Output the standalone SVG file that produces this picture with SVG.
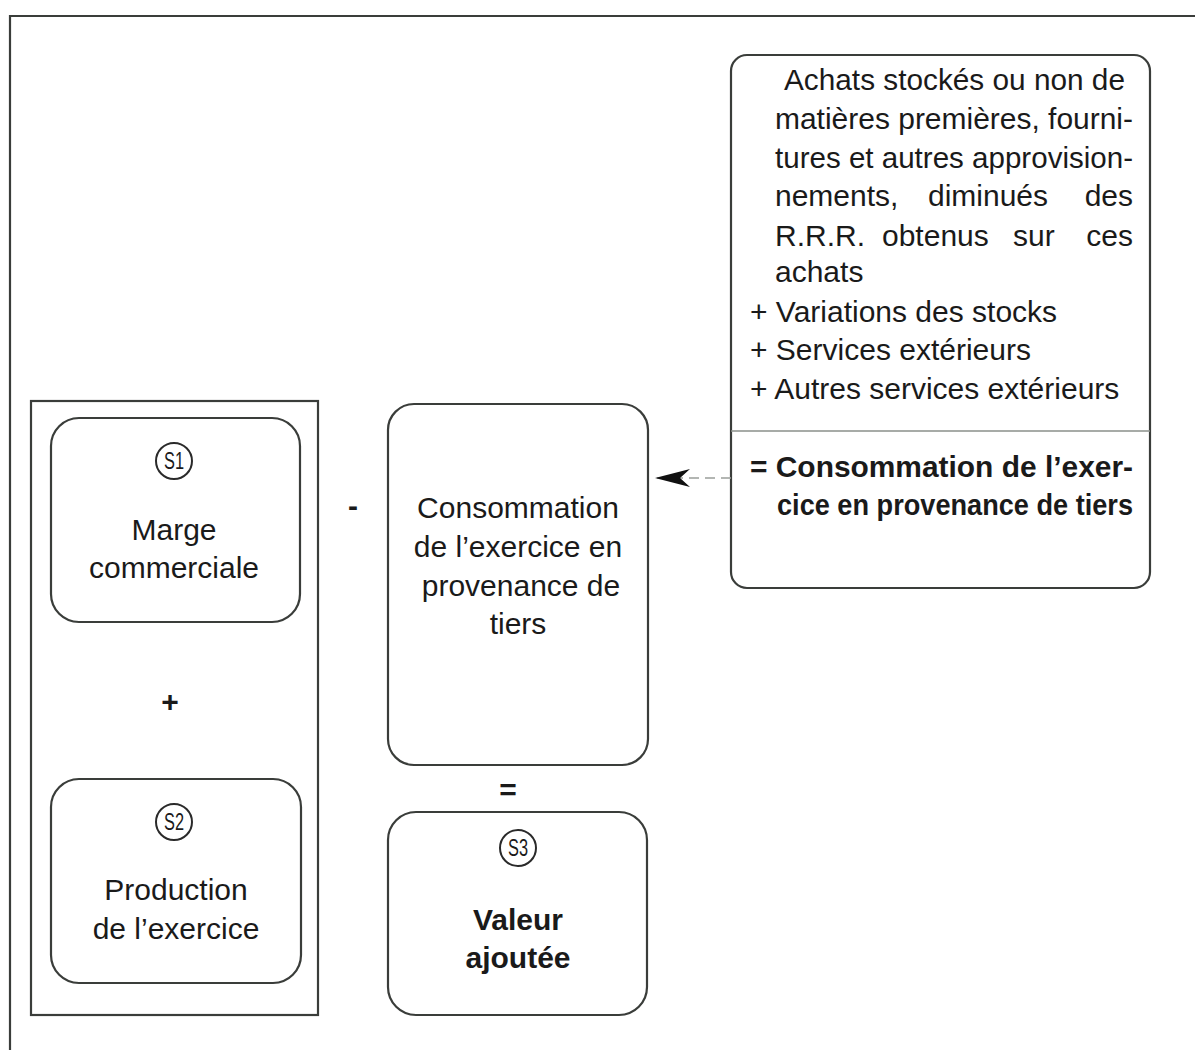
<svg xmlns="http://www.w3.org/2000/svg" width="1195" height="1050" viewBox="0 0 1195 1050">
<style>
.box{fill:none;stroke:#3a3d3a;stroke-width:2.2}
.t{font-family:"Liberation Sans",Arial,sans-serif;font-size:30px;fill:#1a1a1a}
.c{text-anchor:middle}
.b{font-weight:bold}
.s{font-family:"Liberation Sans",Arial,sans-serif;font-size:23px;fill:#1a1a1a;text-anchor:middle}
.circ{fill:none;stroke:#2a2a2a;stroke-width:2}
</style>
<defs>
<marker id="dart" viewBox="0 0 40 22" refX="38" refY="11" markerWidth="40" markerHeight="22" markerUnits="userSpaceOnUse" orient="auto">
<path d="M38,11 L3,2 L13,11 L3,20 Z" fill="#111"/>
</marker>
</defs>
<rect width="1195" height="1050" fill="#ffffff"/>
<path d="M10,1050 V16 H1195" class="box"/>

<g id="group-left">
<rect x="31" y="401" width="287" height="614" class="box"/>
</g>

<g id="s1">
<rect x="51" y="418" width="249" height="204" rx="28" class="box"/>
<circle cx="174" cy="461" r="18" class="circ"/>
<text x="174" y="469" class="s" textLength="20" lengthAdjust="spacingAndGlyphs">S1</text>
<text x="174" y="540" class="t c">Marge</text>
<text x="174" y="578" class="t c">commerciale</text>
</g>

<g id="op-plus"><text x="170" y="712" class="t c b">+</text></g>

<g id="s2">
<rect x="51" y="779" width="250" height="204" rx="28" class="box"/>
<circle cx="174" cy="822" r="18" class="circ"/>
<text x="174" y="830" class="s" textLength="20" lengthAdjust="spacingAndGlyphs">S2</text>
<text x="176" y="900" class="t c">Production</text>
<text x="176" y="939" class="t c">de l’exercice</text>
</g>

<g id="op-minus"><text x="353" y="516" class="t c b">-</text></g>

<g id="consommation">
<rect x="388" y="404" width="260" height="361" rx="26" class="box"/>
<text x="518" y="518" class="t c">Consommation</text>
<text x="518" y="557" class="t c">de l’exercice en</text>
<text x="521" y="596" class="t c">provenance de</text>
<text x="518" y="634" class="t c">tiers</text>
</g>

<g id="op-equal"><text x="508" y="800" class="t c b">=</text></g>

<g id="s3">
<rect x="388" y="812" width="259" height="203" rx="28" class="box"/>
<circle cx="518" cy="848" r="18" class="circ"/>
<text x="518" y="856" class="s" textLength="20" lengthAdjust="spacingAndGlyphs">S3</text>
<text x="518" y="930" class="t c b">Valeur</text>
<text x="518" y="968" class="t c b">ajoutée</text>
</g>

<g id="details">
<rect x="731" y="55" width="419" height="533" rx="16" class="box"/>
<line x1="731" y1="431" x2="1150" y2="431" stroke="#8a8f8a" stroke-width="1.6"/>
<text x="784" y="90" class="t" textLength="341" lengthAdjust="spacingAndGlyphs">Achats stockés ou non de</text>
<text x="775" y="129" class="t" textLength="358" lengthAdjust="spacingAndGlyphs">matières premières, fourni-</text>
<text x="775" y="168" class="t" textLength="358" lengthAdjust="spacingAndGlyphs">tures et autres approvision-</text>
<text x="775" y="206" class="t">nements,</text>
<text x="928" y="206" class="t">diminués</text>
<text x="1133" y="206" class="t" text-anchor="end">des</text>
<text x="775" y="246" class="t">R.R.R.</text>
<text x="882" y="246" class="t">obtenus</text>
<text x="1013" y="246" class="t">sur</text>
<text x="1133" y="246" class="t" text-anchor="end">ces</text>
<text x="775" y="282" class="t">achats</text>
<text x="750" y="322" class="t">+ Variations des stocks</text>
<text x="750" y="360" class="t">+ Services extérieurs</text>
<text x="750" y="399" class="t">+ Autres services extérieurs</text>
<text x="750" y="477" class="t b" textLength="383" lengthAdjust="spacingAndGlyphs">= Consommation de l’exer-</text>
<text x="777" y="515" class="t b" textLength="356" lengthAdjust="spacingAndGlyphs">cice en provenance de tiers</text>
</g>

<g id="connectors">
<line x1="731" y1="478" x2="655" y2="478" stroke="#9a9e9a" stroke-width="1.4" stroke-dasharray="10,6" marker-end="url(#dart)"/>
</g>
</svg>
